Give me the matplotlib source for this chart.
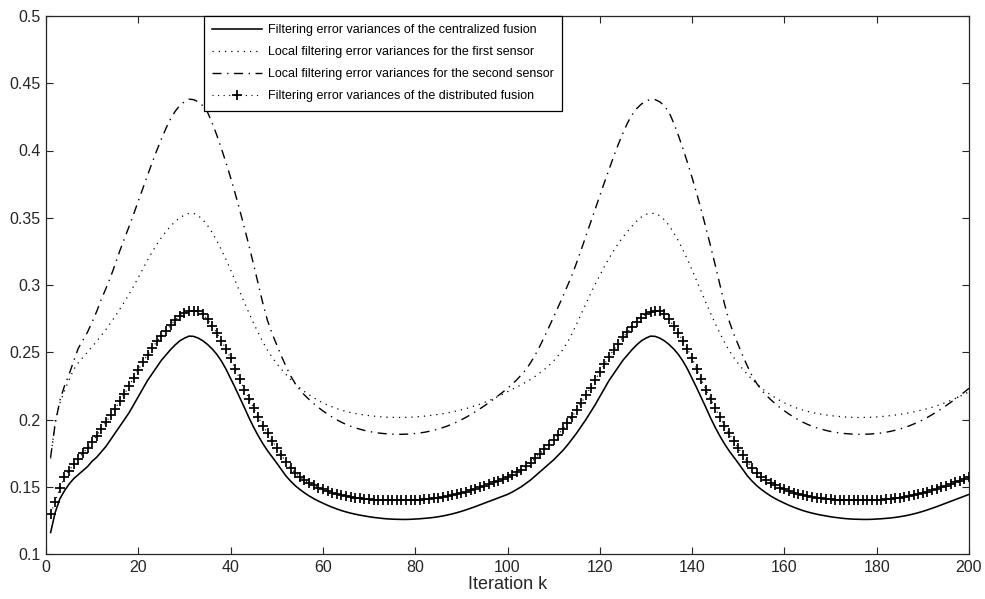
import matplotlib
matplotlib.use('Agg')
import matplotlib.pyplot as plt

plt.rcParams['font.family'] = ['Liberation Sans', 'DejaVu Sans']

# ---------------- data ----------------
k = list(range(1, 201))

centralized_p1 = [
    0.116, 0.131, 0.141, 0.147, 0.152, 0.156, 0.159, 0.162, 0.165, 0.169,
    0.172, 0.176, 0.180, 0.185, 0.190, 0.195, 0.200, 0.205, 0.211, 0.217,
    0.223, 0.229, 0.234, 0.239, 0.244, 0.248, 0.252, 0.2555, 0.2585, 0.2605,
    0.262, 0.2618, 0.2605, 0.2585, 0.2558, 0.2525, 0.2485, 0.2435, 0.2375, 0.2305,
    0.2235, 0.2162, 0.2088, 0.2012, 0.1942, 0.1878, 0.1820, 0.1768, 0.1722, 0.1676,
    0.1628, 0.1580, 0.1542, 0.1508, 0.1480, 0.1455, 0.1432, 0.1412, 0.1394, 0.1378,
    0.1362, 0.1348, 0.1335, 0.1323, 0.1313, 0.1304, 0.1296, 0.1289, 0.1283, 0.1277,
    0.1272, 0.1268, 0.1264, 0.1261, 0.1259, 0.1258, 0.1257, 0.1257, 0.1258, 0.1260,
    0.1262, 0.1265, 0.1268, 0.1272, 0.1277, 0.1283, 0.1290, 0.1298, 0.1307, 0.1317,
    0.1328, 0.1340, 0.1352, 0.1365, 0.1378, 0.1391, 0.1404, 0.1417, 0.1430, 0.1443]
centralized_p2 = [
    0.146, 0.148, 0.150, 0.1525, 0.155, 0.158, 0.161, 0.164, 0.167, 0.170,
    0.1735, 0.177, 0.181, 0.1855, 0.190, 0.195, 0.200, 0.2055, 0.211, 0.217,
    0.223, 0.229, 0.234, 0.239, 0.244, 0.248, 0.252, 0.2555, 0.2585, 0.2605,
    0.262, 0.2618, 0.2605, 0.2585, 0.2558, 0.2525, 0.2485, 0.2435, 0.2375, 0.2305,
    0.2235, 0.2162, 0.2088, 0.2012, 0.1942, 0.1878, 0.1820, 0.1768, 0.1722, 0.1676,
    0.1628, 0.1580, 0.1542, 0.1508, 0.1480, 0.1455, 0.1432, 0.1412, 0.1394, 0.1378,
    0.1362, 0.1348, 0.1335, 0.1323, 0.1313, 0.1304, 0.1296, 0.1289, 0.1283, 0.1277,
    0.1272, 0.1268, 0.1264, 0.1261, 0.1259, 0.1258, 0.1257, 0.1257, 0.1258, 0.1260,
    0.1262, 0.1265, 0.1268, 0.1272, 0.1277, 0.1283, 0.1290, 0.1298, 0.1307, 0.1317,
    0.1328, 0.1340, 0.1352, 0.1365, 0.1378, 0.1391, 0.1404, 0.1417, 0.1430, 0.1443]

sensor1_p1 = [
    0.171, 0.199, 0.212, 0.2215, 0.2295, 0.2372, 0.2422, 0.2462, 0.2502, 0.2542,
    0.2582, 0.2625, 0.2670, 0.2718, 0.2768, 0.2820, 0.2875, 0.2932, 0.2992, 0.3055,
    0.3120, 0.3185, 0.3245, 0.3302, 0.3352, 0.3398, 0.3438, 0.3472, 0.3500, 0.3520,
    0.3533, 0.3532, 0.3515, 0.3485, 0.3443, 0.3390, 0.3330, 0.3262, 0.3190, 0.3112,
    0.3030, 0.2948, 0.2868, 0.2790, 0.2715, 0.2643, 0.2576, 0.2515, 0.2462, 0.2415,
    0.2373, 0.2335, 0.2298, 0.2265, 0.2235, 0.2208, 0.2184, 0.2162, 0.2142, 0.2124,
    0.2108, 0.2094, 0.2081, 0.2070, 0.2060, 0.2052, 0.2045, 0.2039, 0.2034, 0.2029,
    0.2025, 0.2022, 0.2019, 0.2017, 0.2016, 0.2015, 0.2015, 0.2016, 0.2017, 0.2019,
    0.2022, 0.2025, 0.2029, 0.2033, 0.2038, 0.2043, 0.2049, 0.2056, 0.2064, 0.2072,
    0.2081, 0.2091, 0.2102, 0.2114, 0.2127, 0.2141, 0.2156, 0.2172, 0.2189, 0.2207]
sensor1_p2 = [
    0.2224, 0.2241, 0.2259, 0.2278, 0.2298, 0.2321, 0.2347, 0.2372, 0.2402, 0.2436,
    0.2475, 0.2520, 0.2575, 0.2640, 0.2712, 0.2788, 0.2862, 0.2935, 0.3005, 0.3072,
    0.3138, 0.3198, 0.3255, 0.3308, 0.3355, 0.3398, 0.3438, 0.3475, 0.3505, 0.3525,
    0.3533, 0.3532, 0.3515, 0.3485, 0.3443, 0.3390, 0.3330, 0.3262, 0.3190, 0.3112,
    0.3030, 0.2948, 0.2868, 0.2790, 0.2715, 0.2643, 0.2576, 0.2515, 0.2462, 0.2415,
    0.2373, 0.2335, 0.2298, 0.2265, 0.2235, 0.2208, 0.2184, 0.2162, 0.2142, 0.2124,
    0.2108, 0.2094, 0.2081, 0.2070, 0.2060, 0.2052, 0.2045, 0.2039, 0.2034, 0.2029,
    0.2025, 0.2022, 0.2019, 0.2017, 0.2016, 0.2015, 0.2015, 0.2016, 0.2017, 0.2019,
    0.2022, 0.2025, 0.2029, 0.2033, 0.2038, 0.2043, 0.2049, 0.2056, 0.2064, 0.2072,
    0.2081, 0.2091, 0.2102, 0.2114, 0.2127, 0.2141, 0.2156, 0.2172, 0.2189, 0.2207]

sensor2_p1 = [
    0.172, 0.197, 0.214, 0.225, 0.2335, 0.2435, 0.2530, 0.2590, 0.2650, 0.2725,
    0.2805, 0.2895, 0.2975, 0.3060, 0.3155, 0.3255, 0.3345, 0.3435, 0.3528, 0.3625,
    0.3720, 0.3815, 0.3910, 0.4000, 0.4085, 0.4165, 0.4235, 0.4292, 0.4335, 0.4363,
    0.4382, 0.4378, 0.4362, 0.4332, 0.4285, 0.4205, 0.4115, 0.4015, 0.3910, 0.3798,
    0.3680, 0.3555, 0.3425, 0.3290, 0.3150, 0.3005, 0.2862, 0.2735, 0.2638, 0.2555,
    0.2472, 0.2395, 0.2325, 0.2268, 0.2220, 0.2182, 0.2149, 0.2118, 0.2090, 0.2064,
    0.2040, 0.2018, 0.1998, 0.1980, 0.1964, 0.1950, 0.1938, 0.1928, 0.1919, 0.1911,
    0.1905, 0.1900, 0.1896, 0.1893, 0.1891, 0.1890, 0.1890, 0.1891, 0.1893, 0.1896,
    0.1900, 0.1905, 0.1912, 0.1920, 0.1929, 0.1940, 0.1952, 0.1966, 0.1981, 0.1998,
    0.2016, 0.2036, 0.2057, 0.2079, 0.2102, 0.2126, 0.2151, 0.2177, 0.2204, 0.2232]
sensor2_p2 = [
    0.2262, 0.2295, 0.2332, 0.2372, 0.2422, 0.2480, 0.2545, 0.2615, 0.2688, 0.2762,
    0.2838, 0.2915, 0.2995, 0.3075, 0.3168, 0.3265, 0.3365, 0.3465, 0.3565, 0.3665,
    0.3763, 0.3860, 0.3955, 0.4045, 0.4128, 0.4205, 0.4265, 0.4312, 0.4345, 0.4368,
    0.4380, 0.4378, 0.4362, 0.4332, 0.4285, 0.4205, 0.4115, 0.4015, 0.3910, 0.3798,
    0.3680, 0.3555, 0.3425, 0.3290, 0.3150, 0.3005, 0.2862, 0.2735, 0.2638, 0.2555,
    0.2472, 0.2395, 0.2325, 0.2268, 0.2220, 0.2182, 0.2149, 0.2118, 0.2090, 0.2064,
    0.2040, 0.2018, 0.1998, 0.1980, 0.1964, 0.1950, 0.1938, 0.1928, 0.1919, 0.1911,
    0.1905, 0.1900, 0.1896, 0.1893, 0.1891, 0.1890, 0.1890, 0.1891, 0.1893, 0.1896,
    0.1900, 0.1905, 0.1912, 0.1920, 0.1929, 0.1940, 0.1952, 0.1966, 0.1981, 0.1998,
    0.2016, 0.2036, 0.2057, 0.2079, 0.2102, 0.2126, 0.2151, 0.2177, 0.2204, 0.2232]

distributed_p1 = [
    0.130, 0.139, 0.149, 0.157, 0.162, 0.167, 0.171, 0.175, 0.179, 0.183,
    0.188, 0.193, 0.198, 0.203, 0.208, 0.214, 0.219, 0.225, 0.231, 0.237,
    0.243, 0.248, 0.253, 0.258, 0.262, 0.266, 0.270, 0.274, 0.277, 0.279,
    0.2805, 0.2810, 0.2803, 0.2785, 0.2745, 0.2695, 0.2645, 0.2585, 0.2525, 0.2455,
    0.2378, 0.2298, 0.2222, 0.2155, 0.2085, 0.2018, 0.1955, 0.1898, 0.1842, 0.1788,
    0.1735, 0.1685, 0.1638, 0.1602, 0.1574, 0.1549, 0.1528, 0.1510, 0.1494, 0.1480,
    0.1468, 0.1457, 0.1447, 0.1438, 0.1431, 0.1425, 0.1420, 0.1415, 0.1411, 0.1408,
    0.1405, 0.1403, 0.1401, 0.1400, 0.1399, 0.1399, 0.1399, 0.1400, 0.1401, 0.1402,
    0.1404, 0.1407, 0.1410, 0.1414, 0.1419, 0.1424, 0.1430, 0.1437, 0.1445, 0.1454,
    0.1463, 0.1473, 0.1484, 0.1495, 0.1507, 0.1519, 0.1532, 0.1545, 0.1558, 0.1572]
distributed_p2 = [
    0.1588, 0.1606, 0.1626, 0.1652, 0.1680, 0.1712, 0.1745, 0.1778, 0.1812, 0.1848,
    0.1888, 0.1930, 0.1975, 0.2022, 0.2072, 0.2125, 0.2180, 0.2237, 0.2295, 0.2353,
    0.2410, 0.2465, 0.2517, 0.2565, 0.2610, 0.2650, 0.2688, 0.2722, 0.2755, 0.2782,
    0.2801, 0.2810, 0.2803, 0.2785, 0.2745, 0.2695, 0.2645, 0.2585, 0.2525, 0.2455,
    0.2378, 0.2298, 0.2222, 0.2155, 0.2085, 0.2018, 0.1955, 0.1898, 0.1842, 0.1788,
    0.1735, 0.1685, 0.1638, 0.1602, 0.1574, 0.1549, 0.1528, 0.1510, 0.1494, 0.1480,
    0.1468, 0.1457, 0.1447, 0.1438, 0.1431, 0.1425, 0.1420, 0.1415, 0.1411, 0.1408,
    0.1405, 0.1403, 0.1401, 0.1400, 0.1399, 0.1399, 0.1399, 0.1400, 0.1401, 0.1402,
    0.1404, 0.1407, 0.1410, 0.1414, 0.1419, 0.1424, 0.1430, 0.1437, 0.1445, 0.1454,
    0.1463, 0.1473, 0.1484, 0.1495, 0.1507, 0.1519, 0.1532, 0.1545, 0.1558, 0.1572]

centralized = centralized_p1 + centralized_p2
sensor1 = sensor1_p1 + sensor1_p2
sensor2 = sensor2_p1 + sensor2_p2
distributed = distributed_p1 + distributed_p2

x_ticks = [0, 20, 40, 60, 80, 100, 120, 140, 160, 180, 200]
y_ticks = [0.1, 0.15, 0.2, 0.25, 0.3, 0.35, 0.4, 0.45, 0.5]
y_tick_labels = ['0.1', '0.15', '0.2', '0.25', '0.3', '0.35', '0.4', '0.45', '0.5']
series_labels = [
    'Filtering error variances of the centralized fusion',
    'Local filtering error variances for the first sensor',
    'Local filtering error variances for the second sensor',
    'Filtering error variances of the distributed fusion',
]
x_label = 'Iteration k'

# ---------------- figure ----------------
W, H = 985, 599
fig = plt.figure(figsize=(W / 100, H / 100), dpi=100)
ax = fig.add_axes([46 / W, 1 - 554 / H, 923 / W, 538 / H])

ax.plot(k, centralized, color='black', lw=1.15, label=series_labels[0])
ax.plot(k, sensor1, color='black', lw=0.9, linestyle=(0, (1, 4)), label=series_labels[1])
ax.plot(k, sensor2, color='black', lw=1.0, linestyle=(0, (6.5, 4, 1, 4)), label=series_labels[2])
ax.plot(k, distributed, color='black', lw=0.8, linestyle=(0, (1, 4)),
        marker='+', markersize=7, markeredgewidth=1.25, label=series_labels[3])

ax.set_xlim(0, 200)
ax.set_ylim(0.1, 0.5)
ax.set_xticks(x_ticks)
ax.set_xticklabels([str(t) for t in x_ticks])
ax.set_yticks(y_ticks)
ax.set_yticklabels(y_tick_labels)
ax.tick_params(direction='in', top=True, right=True, length=5, width=0.8,
               labelsize=11.5, colors='#262626', pad=4)
for s in ax.spines.values():
    s.set_linewidth(0.9)
    s.set_color('#262626')
ax.set_xlabel(x_label, fontsize=13, color='#262626', labelpad=1)

leg = ax.legend(loc='upper left', bbox_to_anchor=(158 / 923, 1.0), borderaxespad=0,
                fontsize=9, frameon=True, fancybox=False, framealpha=1,
                edgecolor='black', handlelength=4.0, handletextpad=0.5,
                labelspacing=0.81, borderpad=0.65, numpoints=1)
leg.get_frame().set_linewidth(0.9)

fig.savefig('out.png', dpi=100)
